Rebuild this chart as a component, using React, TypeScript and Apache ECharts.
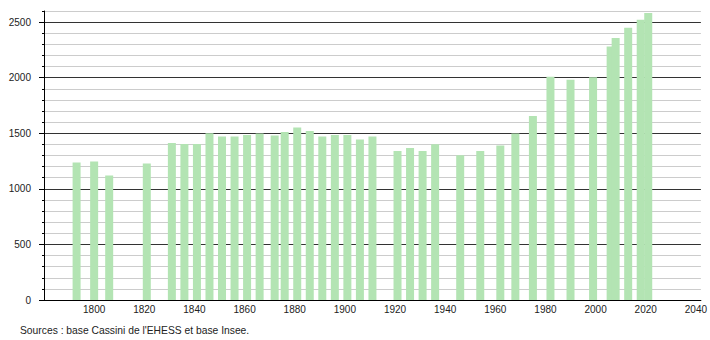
import React, { useEffect, useRef } from "react";
import * as echarts from "echarts";

const years = [1793, 1800, 1806, 1821, 1831, 1836, 1841, 1846, 1851, 1856, 1861, 1866, 1872, 1876, 1881, 1886, 1891, 1896, 1901, 1906, 1911, 1921, 1926, 1931, 1936, 1946, 1954, 1962, 1968, 1975, 1982, 1990, 1999, 2006, 2008, 2013, 2018, 2021];
const population = [1236, 1245, 1119, 1227, 1413, 1404, 1404, 1500, 1470, 1470, 1485, 1497, 1479, 1512, 1551, 1521, 1470, 1485, 1485, 1443, 1470, 1341, 1368, 1341, 1401, 1302, 1341, 1389, 1497, 1656, 2008, 1981, 2005, 2281, 2356, 2449, 2521, 2581];
const yMajorTicks = [0, 500, 1000, 1500, 2000, 2500];
const sourceText = "Sources : base Cassini de l'EHESS et base Insee.";

const FONT = "'Liberation Sans', Arial, sans-serif";

export default function App() {
  const ref = useRef<HTMLDivElement>(null);
  useEffect(() => {
    if (!ref.current) return;
    const chart = echarts.init(ref.current, null, { renderer: "svg" });
    const dark = "#333333";
    const light = "#cccccc";
    chart.setOption({
      animation: false,
      backgroundColor: "#ffffff",
      grid: { left: 44, right: 9, top: 11, bottom: 40, containLabel: false },
      xAxis: {
        type: "value",
        min: 1780,
        max: 2042,
        interval: 20,
        axisLine: { show: true, lineStyle: { color: "#000", width: 1 } },
        axisTick: { show: false },
        splitLine: { show: false },
        axisLabel: {
          showMinLabel: false,
          showMaxLabel: false,
          color: "#222",
          fontSize: 10,
          fontFamily: FONT,
          margin: 4,
          formatter: (v: number) => String(v),
        },
      },
      yAxis: [
        {
          type: "value",
          min: 0,
          max: 2600,
          interval: 100,
          axisLine: { show: true, lineStyle: { color: "#000", width: 1 } },
          axisTick: { show: true, length: 2, lineStyle: { color: "#000" } },
          splitLine: {
            show: true,
            lineStyle: { color: [dark, light, light, light, light], width: 1 },
          },
          axisLabel: {
            color: "#222",
            fontSize: 10,
            fontFamily: FONT,
            margin: 13,
            formatter: (v: number) => (yMajorTicks.includes(v) ? String(v) : ""),
          },
        },
        {
          type: "value",
          min: 0,
          max: 2600,
          interval: 500,
          position: "left",
          axisLine: { show: false },
          axisTick: { show: true, length: 5, customValues: yMajorTicks, lineStyle: { color: "#000" } },
          splitLine: { show: false },
          axisLabel: { show: false },
        },
      ],
      series: [
        {
          type: "bar",
          yAxisIndex: 0,
          barWidth: 8,
          itemStyle: { color: "#b3e4b3" },
          data: years.map((y, i) => [y, population[i]]),
        },
      ],
      graphic: [
        {
          type: "text",
          left: 20,
          top: 325,
          style: { text: sourceText, fontSize: 10.3, fontFamily: FONT, fill: "#222" },
        },
      ],
    });
    return () => chart.dispose();
  }, []);
  return (
    <div
      ref={ref}
      style={{ position: "fixed", left: 0, top: 0, width: 710, height: 340 }}
    />
  );
}
